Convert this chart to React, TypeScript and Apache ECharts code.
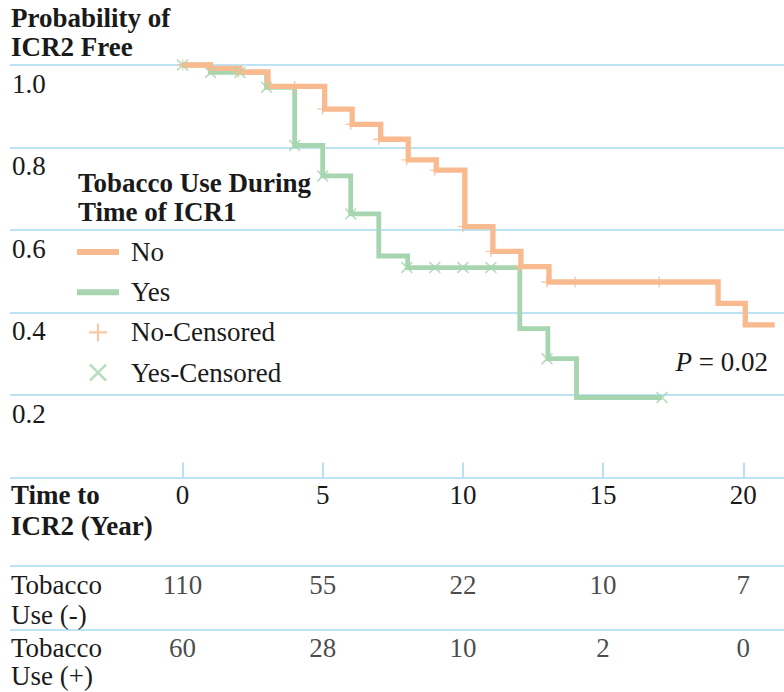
import React, { useEffect, useRef } from 'react';
import * as echarts from 'echarts';

const FONT = '"Liberation Serif", "Times New Roman", Times, serif';
const ORANGE = '#F8BA8E';
const GREEN = '#A6D5AF';
const GRID_BLUE = '#A6DAF1';
const TEXT = '#1a1a1a';

// Kaplan-Meier step curves: time (years) and survival probability from that time onward
const noTimes = [0, 1.0, 2.05, 3.05, 5.07, 6.05, 7.07, 8.05, 9.05, 10.07, 11.07, 12.07, 13.07, 19.1, 20.07, 21.12];
const noProb = [1.0, 0.992, 0.983, 0.948, 0.893, 0.856, 0.82, 0.77, 0.745, 0.608, 0.548, 0.511, 0.474, 0.422, 0.37, 0.37];
const yesTimes = [0, 1.0, 3.0, 4.0, 5.0, 6.0, 7.0, 8.03, 12.03, 13.03, 14.05, 17.1];
const yesProb = [1.0, 0.982, 0.946, 0.805, 0.731, 0.639, 0.537, 0.509, 0.361, 0.288, 0.194, 0.194];

// censored observations
const noCensTimes = [0, 1.0, 2.0, 4.0, 5.0, 6.0, 7.0, 8.0, 9.0, 10.0, 11.0, 12.0, 13.0, 14.0, 17.0];
const noCensProb = [1.0, 0.993, 0.983, 0.948, 0.893, 0.856, 0.82, 0.77, 0.745, 0.608, 0.548, 0.511, 0.474, 0.474, 0.474];
const yesCensTimes = [0, 1.0, 2.05, 3.0, 4.0, 5.0, 6.0, 8.0, 9.0, 10.0, 11.0, 13.0, 17.1];
const yesCensProb = [1.0, 0.982, 0.982, 0.946, 0.805, 0.731, 0.639, 0.509, 0.509, 0.509, 0.509, 0.288, 0.194];

// number-at-risk table
const timeTicks = [0, 5, 10, 15, 20];
const atRiskNo = [110, 55, 22, 10, 7];
const atRiskYes = [60, 28, 10, 2, 0];

const pValueText = '0.02';

const plusPath = 'path://M8.8,0h2.4v20h-2.4zM0,8.8h20v2.4h-20z';
const crossPath = 'path://M2,0L10,8L18,0L20,2L12,10L20,18L18,20L10,12L2,20L0,18L8,10L0,2Z';
const barPath = 'path://M0,0h42v6h-42z';

// table layout (pixel offsets below the time axis)
const TABLE_H = 214.5;
const ROW1_Y = 107.5;
const ROW2_Y = 170.8;
const TABLE_LINES = [88.5, 152];

const X_MIN = -6.15;
const X_MAX = 21.45;

export default function App() {
  const ref = useRef<HTMLDivElement>(null);
  useEffect(() => {
    if (!ref.current) return;
    const chart = echarts.init(ref.current, null, { renderer: 'svg' });
    const txt = { fontFamily: FONT, fontSize: 27, color: TEXT };
    const tableLabel = {
      show: true,
      position: 'inside',
      formatter: (p: any) => String(p.value[2]),
      ...txt,
    };
    chart.setOption({
      animation: false,
      backgroundColor: '#ffffff',
      textStyle: { fontFamily: FONT },
      title: [
        { text: 'Probability of\nICR2 Free', left: 11, top: 3.5, padding: 0, textStyle: { ...txt, fontWeight: 'bold', lineHeight: 29 } },
        { text: 'Tobacco Use During\nTime of ICR1', left: 78, top: 168.5, padding: 0, textStyle: { ...txt, fontWeight: 'bold', lineHeight: 29 } },
        { text: 'Time to\nICR2 (Year)', left: 11, top: 480, padding: 0, textStyle: { ...txt, fontWeight: 'bold', lineHeight: 30.5 } },
        { text: 'Tobacco\nUse (-)', left: 11, top: 570, padding: 0, textStyle: { ...txt, fontWeight: 'normal', lineHeight: 30 } },
        { text: 'Tobacco\nUse (+)', left: 11, top: 634, padding: 0, textStyle: { ...txt, fontWeight: 'normal', lineHeight: 28 } },
        {
          text: '{i|P} = ' + pValueText,
          right: 16,
          top: 349,
          padding: 0,
          textStyle: { ...txt, fontWeight: 'normal', lineHeight: 26, rich: { i: { ...txt, fontStyle: 'italic', lineHeight: 26 } } },
        },
      ],
      legend: {
        orient: 'vertical',
        left: 77,
        top: 238.5,
        padding: 0,
        itemGap: 13.2,
        itemWidth: 42,
        itemHeight: 18,
        selectedMode: false,
        itemStyle: { borderWidth: 0 },
        textStyle: { ...txt, lineHeight: 26, padding: [0, 0, 0, 7] },
        data: [
          { name: 'No', icon: barPath },
          { name: 'Yes', icon: barPath },
          { name: 'No-Censored', icon: plusPath },
          { name: 'Yes-Censored', icon: crossPath },
        ],
      },
      grid: [
        { left: 10, right: 0, top: 65, bottom: TABLE_H },
        { left: 10, right: 0, top: 692 - TABLE_H, height: TABLE_H },
      ],
      xAxis: [
        {
          type: 'value',
          gridIndex: 0,
          min: X_MIN,
          max: X_MAX,
          axisLine: { show: false },
          splitLine: { show: false },
          axisTick: { show: true, inside: true, length: 15, customValues: timeTicks, lineStyle: { color: GRID_BLUE, width: 1.6 } },
          axisLabel: { show: true, customValues: timeTicks, margin: 4.5, lineHeight: 26, ...txt },
        },
        { type: 'value', gridIndex: 1, min: X_MIN, max: X_MAX, show: false },
      ],
      yAxis: [
        {
          type: 'value',
          gridIndex: 0,
          min: 0,
          max: 1,
          interval: 0.2,
          axisLine: { show: false },
          axisTick: { show: false },
          splitLine: { show: true, lineStyle: { color: GRID_BLUE, width: 1.6 } },
          axisLabel: {
            inside: true,
            margin: 2,
            align: 'left',
            verticalAlign: 'top',
            padding: [5.5, 0, 0, 0],
            lineHeight: 26,
            formatter: (v: number) => (v === 0 ? '' : v.toFixed(1)),
            ...txt,
          },
        },
        { type: 'value', gridIndex: 1, min: 0, max: TABLE_H, inverse: true, show: false },
      ],
      series: [
        {
          type: 'line',
          name: 'Yes',
          step: 'end',
          symbol: 'none',
          clip: false,
          z: 2,
          color: GREEN,
          itemStyle: { color: GREEN },
          lineStyle: { color: GREEN, width: 4.8, cap: 'butt', join: 'miter' },
          data: yesTimes.map((t, i) => [t, yesProb[i]]),
        },
        {
          type: 'line',
          name: 'No',
          step: 'end',
          symbol: 'none',
          clip: false,
          z: 3,
          color: ORANGE,
          itemStyle: { color: ORANGE },
          lineStyle: { color: ORANGE, width: 5.3, cap: 'butt', join: 'miter' },
          data: noTimes.map((t, i) => [t, noProb[i]]),
        },
        {
          type: 'scatter',
          name: 'Yes-Censored',
          symbol: crossPath,
          symbolSize: 12,
          clip: false,
          z: 4,
          color: GREEN,
          itemStyle: { color: GREEN },
          data: yesCensTimes.map((t, i) => [t, yesCensProb[i]]),
        },
        {
          type: 'scatter',
          name: 'No-Censored',
          symbol: plusPath,
          symbolSize: 11,
          clip: false,
          z: 5,
          color: ORANGE,
          itemStyle: { color: ORANGE },
          data: noCensTimes.map((t, i) => [t, noCensProb[i]]),
        },
        {
          type: 'scatter',
          name: 'At risk (-)',
          xAxisIndex: 1,
          yAxisIndex: 1,
          symbolSize: 1,
          silent: true,
          itemStyle: { color: 'rgba(0,0,0,0)' },
          label: tableLabel,
          data: timeTicks.map((t, i) => [t, ROW1_Y, atRiskNo[i]]),
          markLine: {
            silent: true,
            symbol: ['none', 'none'],
            label: { show: false },
            lineStyle: { color: GRID_BLUE, width: 1.6, type: 'solid' },
            data: TABLE_LINES.map((y) => ({ yAxis: y })),
          },
        },
        {
          type: 'scatter',
          name: 'At risk (+)',
          xAxisIndex: 1,
          yAxisIndex: 1,
          symbolSize: 1,
          silent: true,
          itemStyle: { color: 'rgba(0,0,0,0)' },
          label: tableLabel,
          data: timeTicks.map((t, i) => [t, ROW2_Y, atRiskYes[i]]),
        },
      ],
    });
    return () => chart.dispose();
  }, []);
  return <div ref={ref} style={{ position: 'fixed', left: 0, top: 0, width: 784, height: 692 }} />;
}
